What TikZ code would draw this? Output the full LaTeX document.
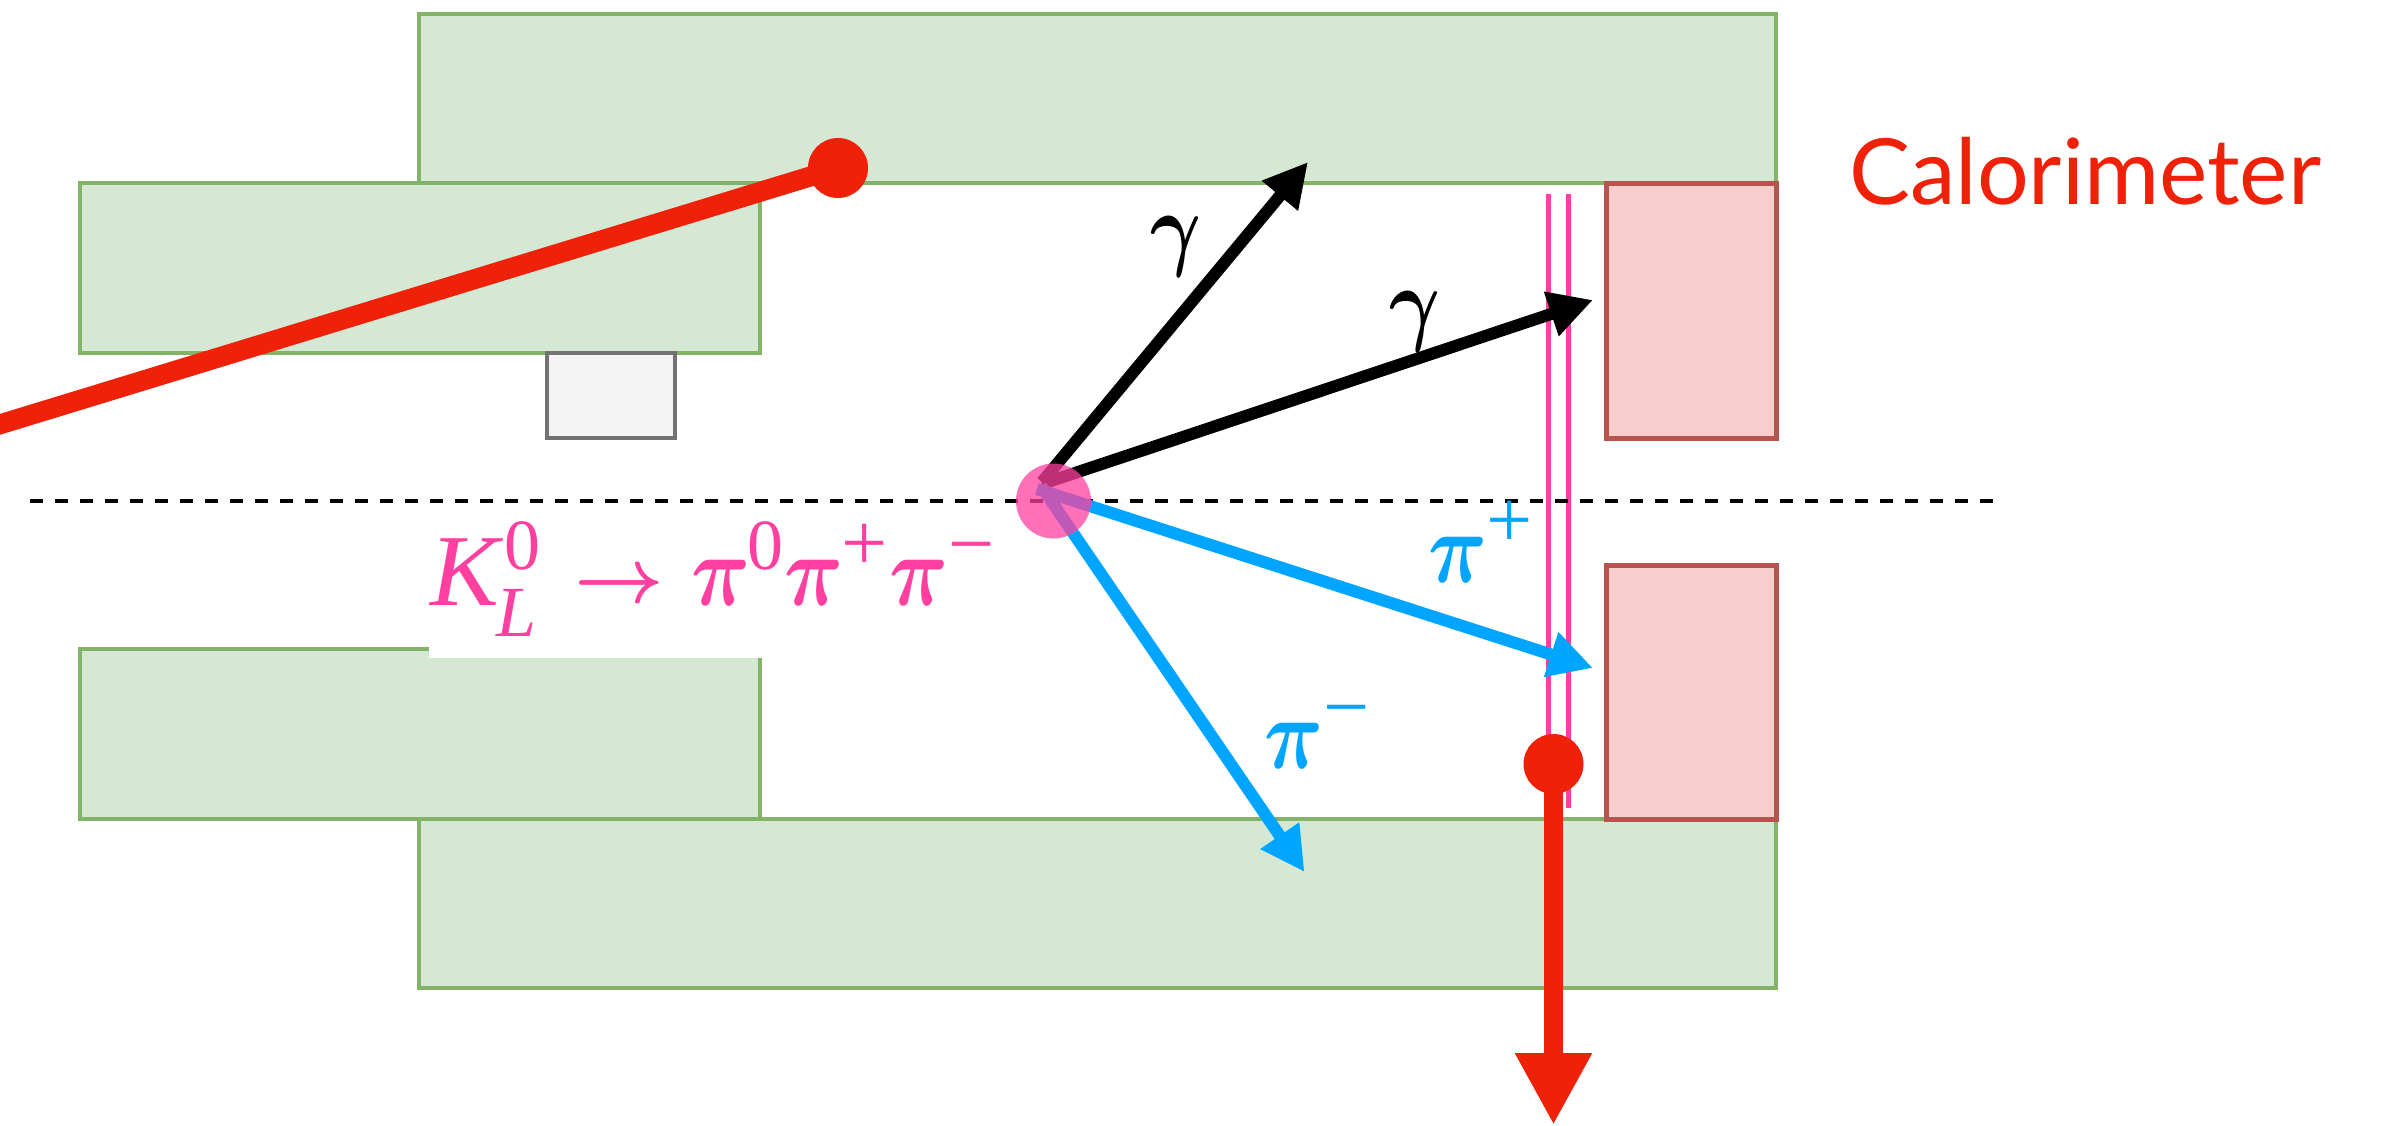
\documentclass[tikz,border=0pt]{standalone}
\usepackage{fontspec}
\usepackage{graphicx}
\usetikzlibrary{arrows.meta}
\setmainfont{Liberation Serif}
\newfontfamily\labelfont{Lato}
\newlength{\pxu}\setlength{\pxu}{0.5pt}
\definecolor{gfill}{HTML}{D5E8D4}
\definecolor{gline}{HTML}{82B366}
\definecolor{rfill}{HTML}{F8CECC}
\definecolor{rline}{HTML}{B85450}
\definecolor{hotpink}{HTML}{FF40A0}
\definecolor{skyb}{HTML}{00A5FF}
\definecolor{vivid}{HTML}{EF2209}
\definecolor{greyfill}{HTML}{F4F4F4}
\newcommand{\bigf}{\fontsize{50}{50}\selectfont}
\newcommand{\smlf}{\fontsize{36}{36}\selectfont}
\newcommand{\signf}{\fontsize{41}{41}\selectfont}
\newcommand{\itpi}{\scalebox{4.1}[5.1]{\fontsize{10}{10}\selectfont\boldmath$\pi$}}
\newcommand{\itgam}{\scalebox{3.9}[4.7]{\fontsize{10}{10}\selectfont\boldmath$\gamma$}}
\newcommand{\upsc}[2]{\raisebox{#1\pxu}{\smlf #2}}
\newcommand{\upsg}[2]{\raisebox{#1\pxu}{\signf #2}}
\newcommand{\slotw}[2]{\makebox[#1\pxu][l]{#2}}
\tikzset{
  x=0.5pt,y=-0.5pt,
  greenbox/.style={draw=gline,fill=gfill,line width=2pt},
  redbox/.style={draw=rline,fill=rfill,line width=2.5pt},
  greybox/.style={draw=black!55,fill=greyfill,line width=2pt},
  pinkline/.style={draw=hotpink,line width=2.5pt},
  photon/.style={draw=black,line width=6pt,-{Triangle[length=22pt,width=22pt]}},
  pion/.style={draw=skyb,line width=6pt,-{Triangle[length=22pt,width=22pt]}},
  dotnode/.style={circle,fill=vivid,minimum size=30pt,inner sep=0pt},
  lab/.style={anchor=base west,inner sep=0pt,outer sep=0pt},
}
\begin{document}
\begin{tikzpicture}
\useasboundingbox (0,0) rectangle (2383,1125);
\clip (0,0) rectangle (2383,1125);
% green structure
\draw[greenbox] (419,14) rectangle (1776,183);
\draw[greenbox] (80,183) rectangle (760,353);
\draw[greenbox] (80,649) rectangle (760,819);
\draw[greenbox] (419,819) rectangle (1776,988);
% calorimeter and small box
\draw[redbox] (1606,183) rectangle (1776,438);
\draw[redbox] (1606,565) rectangle (1776,819);
\draw[greybox] (547,353) rectangle (675,438);
% formula patch
\fill[white] (429,520) rectangle (764,658);
% pink lines
\coordinate (pa1) at (1548.5,194); \coordinate (pa2) at (1548.5,808);
\coordinate (pb1) at (1568.5,194); \coordinate (pb2) at (1568.5,808);
\draw[pinkline] (pa1) -- (pa2);
\draw[pinkline] (pb1) -- (pb2);
% axis
\coordinate (axl) at (30,501); \coordinate (axr) at (2000,501);
\draw[black,line width=2pt,dash pattern=on 6.5pt off 6pt] (axl) -- (axr);
% particle tracks
\coordinate (v1) at (1042,482); \coordinate (v2) at (1042,484);
\coordinate (v3) at (1037,489); \coordinate (v4) at (1041,486);
\coordinate (g1) at (1308,162); \coordinate (g2) at (1593,300);
\coordinate (p1) at (1593,668); \coordinate (p2) at (1304.5,872);
\draw[photon] (v1) -- (g1);
\draw[photon] (v2) -- (g2);
\draw[pion] (v3) -- (p1);
\draw[pion] (v4) -- (p2);
\node[circle,fill=hotpink,fill opacity=0.75,minimum size=37.5pt,inner sep=0pt] (vertex) at (1053.5,501) {};
% beam and exit
\coordinate (beam) at (-12,428);
\node[dotnode] (dotA) at (838,168) {};
\draw[vivid,line width=10pt] (beam) -- (dotA.center);
\node[dotnode] (dotB) at (1553.5,764) {};
\coordinate (exit) at (1553.5,1125);
\draw[vivid,line width=9.5pt,-{Triangle[length=36pt,width=36pt]}] (dotB.center) -- (exit);
% labels
\node[lab,text=hotpink] (decay) at (430,605) {\bigf\slotw{66}{\scalebox{1.03}[1.02]{\textit{K}}}\slotw{8}{\upsc{-31}{\textit{L}}}\slotw{70}{\upsc{36}{0}}\slotw{117}{\raisebox{3\pxu}{\scalebox{3.9}{\fontsize{10}{10}\selectfont\boldmath$\rightarrow$}}}\slotw{56}{\itpi}\slotw{37}{\upsc{36}{0}}\slotw{57}{\itpi}\slotw{48}{\upsg{35}{+}}\slotw{59}{\itpi}\upsg{34}{−}};
\node[lab] (gamA) at (1150,258) {\itgam};
\node[lab] (gamB) at (1389,333) {\itgam};
\node[lab,text=skyb] (pip) at (1428,582) {\bigf\slotw{58}{\itpi}\upsg{35}{+}};
\node[lab,text=skyb] (pim) at (1264,768) {\bigf\slotw{59}{\itpi}\upsg{34}{−}};
\node[lab,text=vivid] (cal) at (1849,204) {\labelfont\fontsize{45.7}{46}\selectfont Calorimeter};
\end{tikzpicture}
\end{document}
